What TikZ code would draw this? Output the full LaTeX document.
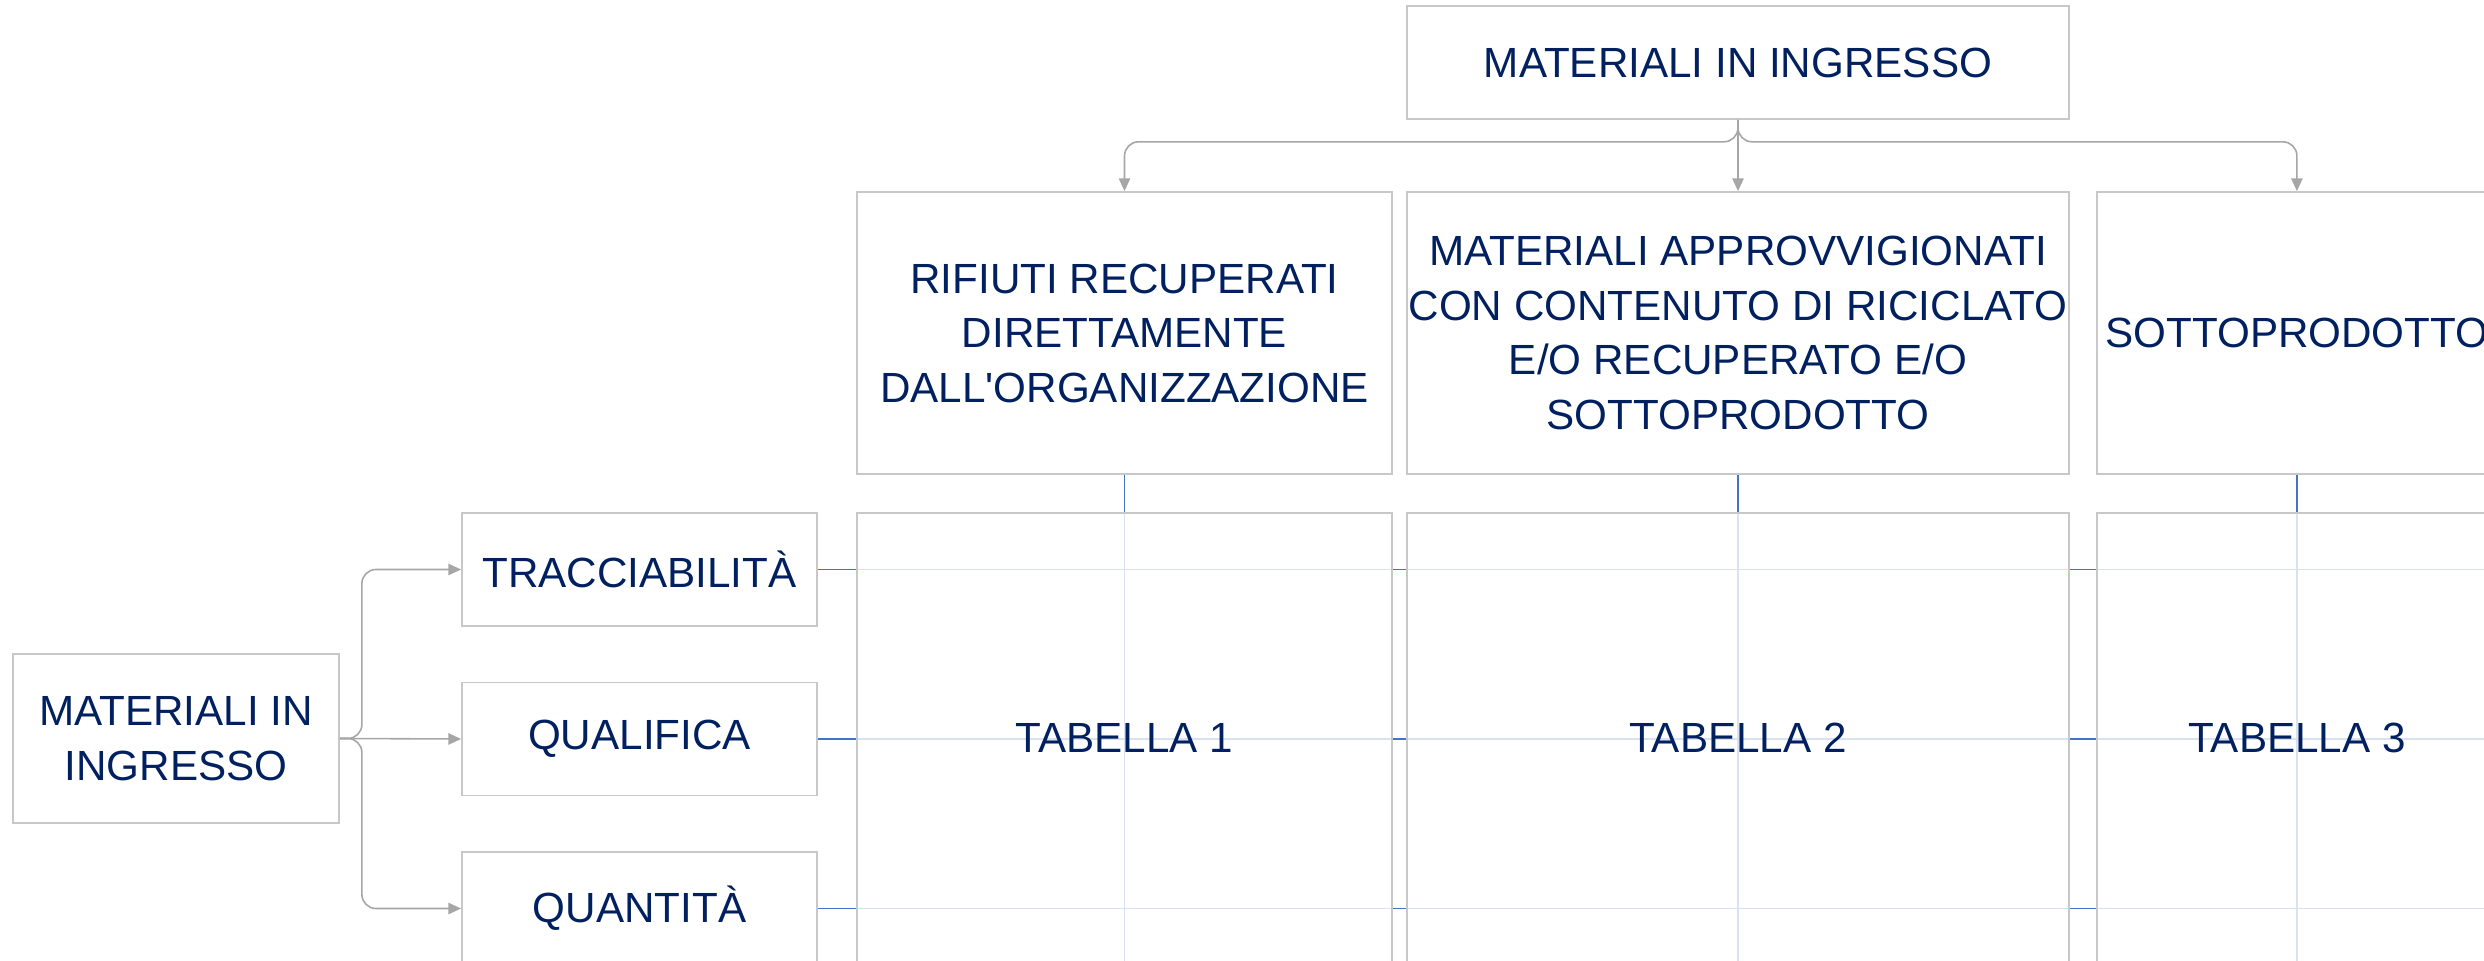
\documentclass[tikz,border=0pt]{standalone}
\usepackage{fontspec}
\setmainfont{Liberation Sans}
\usetikzlibrary{%
	arrows.meta,%
	backgrounds
}

\definecolor{navy}{RGB}{0,32,96}
\definecolor{boxgray}{RGB}{200,200,200}
\definecolor{conngray}{RGB}{166,166,166}
\definecolor{linkblue}{RGB}{68,114,196}

\tikzset{
	box/.style={draw=boxgray, line width=0.45pt, fill=white, text=navy,
		align=center, inner sep=0pt,
		font=\fontsize{12}{15.5}\selectfont},
	tabbox/.style={box, fill opacity=0.8, text opacity=1},
	conn/.style={draw=conngray, line width=0.45pt, ->, rounded corners=4pt},
	link/.style={draw=linkblue, line width=0.55pt}
}

\begin{document}
\begin{tikzpicture}[x=0.01cm, y=-0.01cm, >={Triangle[length=3.6pt,width=3.2pt]}]
				\useasboundingbox (0,0) rectangle (2484,961);
				\clip (0,0) rectangle (2484,961);
				\coordinate (se) at (2484,961);
				
				% Top box
				\node[box, minimum width=6.62cm, minimum height=1.13cm] (top) at (1738,62.5) {MATERIALI IN INGRESSO};
				
				% Columns
				\node[box, minimum width=5.35cm, minimum height=2.82cm] (col1) at (1124.5,333)
					{RIFIUTI RECUPERATI\\DIRETTAMENTE\\DALL\textquotesingle ORGANIZZAZIONE};
				\node[box, minimum width=6.62cm, minimum height=2.82cm] (col2) at (1738,333)
					{MATERIALI APPROVVIGIONATI\\CON CONTENUTO DI RICICLATO\\E/O RECUPERATO E/O\\SOTTOPRODOTTO};
				\node[box, minimum width=4cm, minimum height=2.82cm, anchor=west] (col3) at (2096,333) {SOTTOPRODOTTO};
				
				% Tables
				\node[tabbox, minimum width=5.35cm, minimum height=4.5cm] (tab1) at (1124.5,738) {TABELLA 1};
				\node[tabbox, minimum width=6.62cm, minimum height=4.5cm] (tab2) at (1738,738) {TABELLA 2};
				\node[tabbox, minimum width=4cm, minimum height=4.5cm, anchor=west] (tab3) at (2096,738) {TABELLA 3};
				
				% Left side
				\node[box, minimum width=3.26cm, minimum height=1.69cm] (lft) at (176,738.5) {MATERIALI IN\\INGRESSO};
				\node[box, minimum width=3.55cm, minimum height=1.13cm] (mid1) at (639.5,569.5) {TRACCIABILITÀ};
				\node[box, minimum width=3.55cm, minimum height=1.13cm] (mid2) at (639.5,739) {QUALIFICA};
				\node[box, minimum width=3.55cm, minimum height=1.13cm] (mid3) at (639.5,908.5) {QUANTITÀ};
				
				% Connectors
				\draw[conn] (top.south) -- ++(0,22) -| (col1.north);
				\draw[conn] (top.south) -- (col2.north);
				\draw[conn] (top.south) -- ++(0,22) -| (col3.north);
				\draw[conn] (lft.east) -- ++(22,0) |- (mid1.west);
				\draw[conn] (lft.east) -- (mid2.west);
				\draw[conn] (lft.east) -- ++(22,0) |- (mid3.west);
				
				% Blue links behind the tables
				\begin{scope}[on background layer]
					\foreach \c in {col1,col2,col3}
					\draw[link] (\c.south) -- (\c.south |- se);
					\foreach \m in {mid1,mid2,mid3}
					\draw[link] (\m.east) -- (\m.east -| se);
				\end{scope}
			\end{tikzpicture}
\end{document}
